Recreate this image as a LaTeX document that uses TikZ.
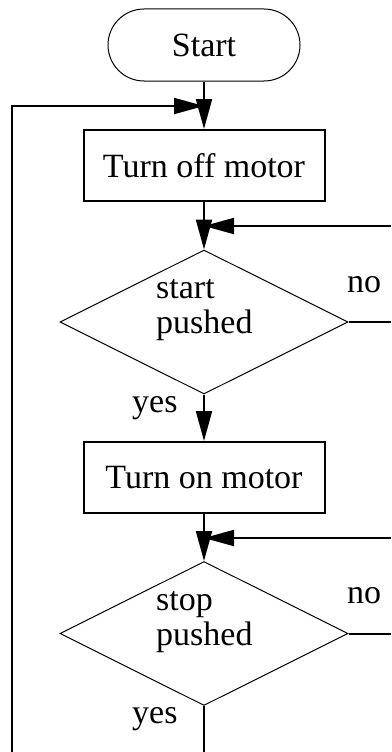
\documentclass[tikz,border=0pt]{standalone}
\usepackage{fontspec}
\setmainfont{Liberation Serif}
\usetikzlibrary{shapes.geometric,arrows.meta}
\begin{document}
\begin{tikzpicture}[x=1pt,y=-1pt,
  txt/.style={font=\fontsize{34}{40}\selectfont},
  lbl/.style={txt,anchor=base west,inner sep=0pt},
  term/.style={txt,draw,line width=1pt,rounded corners=36pt,minimum width=192pt,minimum height=72pt,inner sep=0pt},
  proc/.style={txt,draw,line width=2pt,minimum width=241pt,minimum height=71pt,inner sep=0pt},
  dec/.style={draw,diamond,line width=1pt,minimum width=288pt,minimum height=144pt,inner sep=0pt},
  conn/.style={line width=2pt},
  arr/.style={conn,-{Triangle[length=30pt,width=16pt]}}]
\useasboundingbox (0,0) rectangle (391,752);
\node[term] (start) at (204,45) {Start};
\node[proc] (off) at (204,165.5) {Turn off motor};
\node[dec] (d1) at (204,322) {};
\node[proc] (on) at (204,477.5) {Turn on motor};
\node[dec] (d2) at (204,633.5) {};
% labels
\node[lbl] (t1a) at (156,298) {start};
\node[lbl] (t1b) at (156,333) {pushed};
\node[lbl] (no1) at (347,292) {no};
\node[lbl] (yes1) at (132,412) {yes};
\node[lbl] (t2a) at (156,610) {stop};
\node[lbl] (t2b) at (156,645) {pushed};
\node[lbl] (no2) at (347,603) {no};
\node[lbl] (yes2) at (132,723) {yes};
% coordinates
\coordinate (lb) at (12,752);
\coordinate (lt) at (12,106);
\coordinate (jt) at (204,106);
\coordinate (bb) at (204,752);
\coordinate (r1a) at (391,322);
\coordinate (r1b) at (391,226);
\coordinate (j1) at (204,226);
\coordinate (r2a) at (391,633.5);
\coordinate (r2b) at (391,538);
\coordinate (j2) at (204,538);
% connectors
\draw[arr] (start.south) -- (off.north);
\draw[arr] (lb) -- (lt) -- (jt);
\draw[arr] (off.south) -- (d1.north);
\draw[conn] (d1.east) -- (r1a);
\draw[arr] (r1b) -- (j1);
\draw[arr] (d1.south) -- (on.north);
\draw[arr] (on.south) -- (d2.north);
\draw[conn] (d2.east) -- (r2a);
\draw[arr] (r2b) -- (j2);
\draw[conn] (d2.south) -- (bb);
\end{tikzpicture}
\end{document}
